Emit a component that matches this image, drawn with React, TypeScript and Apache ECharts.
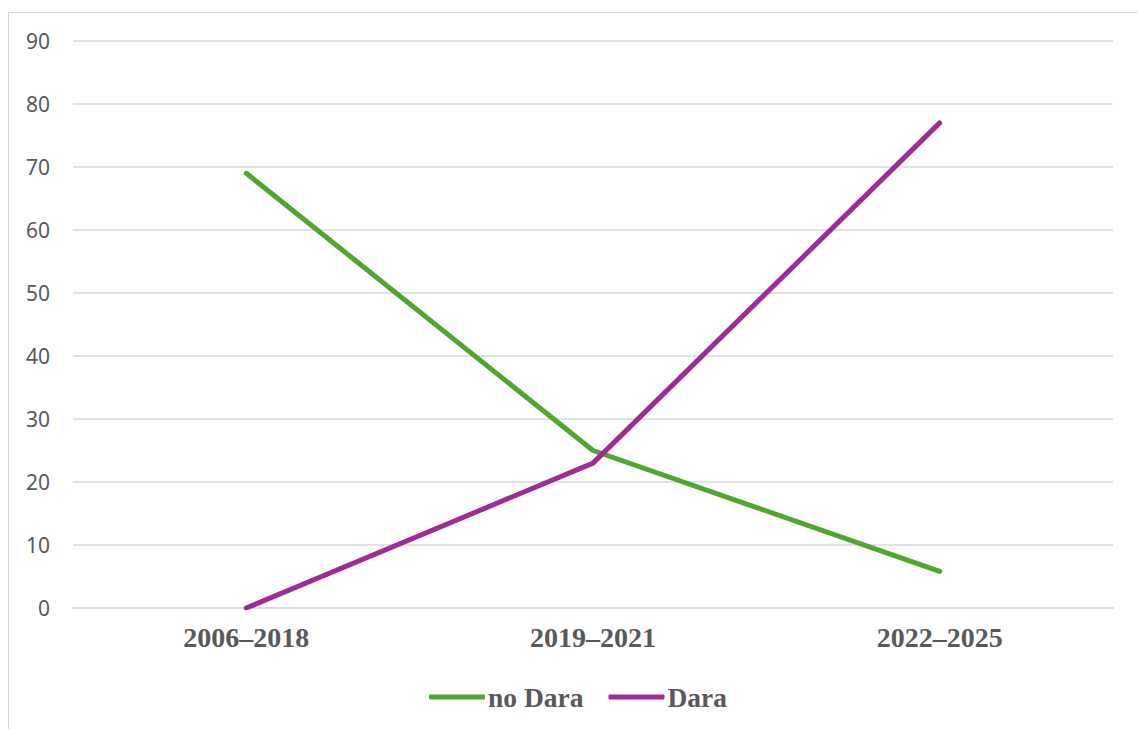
import React, { useEffect, useRef } from "react";
import * as echarts from "echarts";

const categories = ["2006–2018", "2019–2021", "2022–2025"];
const noDara = [69, 25, 5.8];
const dara = [0, 23, 77];
const yTicks = { min: 0, max: 90, interval: 10 };

export default function App() {
  const ref = useRef<HTMLDivElement>(null);
  useEffect(() => {
    if (!ref.current) return;
    const chart = echarts.init(ref.current, null, { renderer: "svg" });
    const serif = "'Liberation Serif', 'Times New Roman', serif";
    chart.setOption({
      animation: false,
      backgroundColor: "#ffffff",
      graphic: [
        {
          type: "rect",
          shape: { x: 8.5, y: 12.5, width: 1300, height: 900 },
          style: { fill: "none", stroke: "#d9d9d9", lineWidth: 1 },
          silent: true,
        },
      ],
      grid: { left: 73, right: 25, top: 41, bottom: 121 },
      legend: {
        bottom: 13,
        left: 424,
        itemWidth: 56,
        itemHeight: 5,
        itemGap: 25,
        icon: "roundRect",
        textStyle: {
          fontFamily: serif,
          fontWeight: "bold",
          fontSize: 27.5,
          color: "#595959",
          padding: [0, 0, 0, -2],
        },
        data: [
          { name: "no Dara", itemStyle: { color: "#4EA72E" } },
          { name: "Dara", itemStyle: { color: "#A02B93" } },
        ],
      },
      xAxis: {
        type: "category",
        data: categories,
        boundaryGap: true,
        axisLine: { show: true, lineStyle: { color: "#d9d9d9", width: 1.5 } },
        axisTick: { show: false },
        axisLabel: {
          margin: 15,
          fontFamily: serif,
          fontWeight: "bold",
          fontSize: 28,
          color: "#595959",
        },
      },
      yAxis: {
        type: "value",
        min: yTicks.min,
        max: yTicks.max,
        interval: yTicks.interval,
        axisLine: { show: false },
        axisTick: { show: false },
        splitLine: { lineStyle: { color: "#d9d9d9", width: 1.5 } },
        axisLabel: {
          margin: 23,
          fontFamily: "'Noto Sans', 'Liberation Sans', sans-serif",
          fontSize: 21,
          color: "#595959",
        },
      },
      series: [
        {
          name: "no Dara",
          type: "line",
          data: noDara,
          symbol: "none",
          color: "#4EA72E",
          lineStyle: { width: 5, color: "#4EA72E", cap: "round", join: "round" },
        },
        {
          name: "Dara",
          type: "line",
          data: dara,
          symbol: "none",
          color: "#A02B93",
          lineStyle: { width: 5, color: "#A02B93", cap: "round", join: "round" },
        },
      ],
    });
    return () => chart.dispose();
  }, []);
  return (
    <div
      ref={ref}
      style={{ position: "fixed", left: 0, top: 0, width: 1138, height: 729 }}
    />
  );
}
